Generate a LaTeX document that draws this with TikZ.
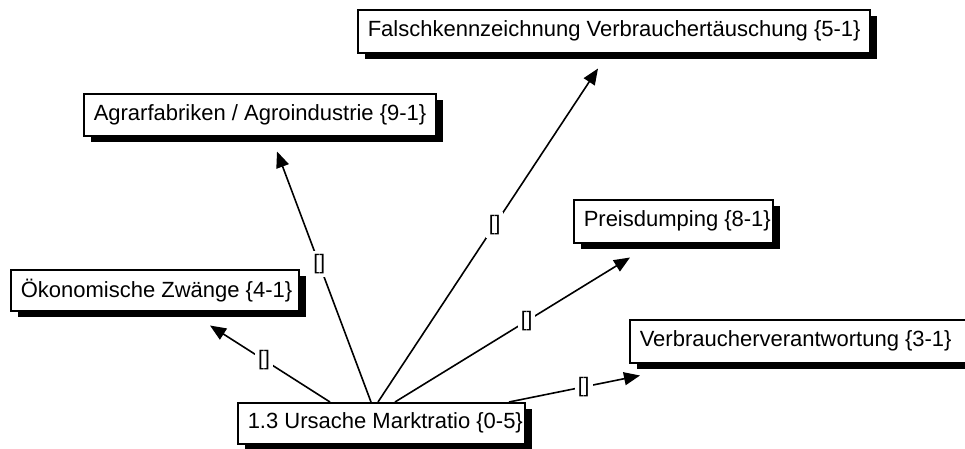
\documentclass[tikz,border=0pt]{standalone}
\usepackage{fontspec}
\setmainfont{Liberation Sans}
\usetikzlibrary{shadows,arrows.meta,calc}
\begin{document}
\begin{tikzpicture}[x=1pt,y=-1pt,
  box/.style={draw, line width=1.5pt, fill=white, inner xsep=10pt, inner ysep=0pt,
    anchor=north west, font=\fontsize{22}{26}\selectfont,
    drop shadow={shadow xshift=7pt, shadow yshift=-6pt, fill=black, opacity=1}},
  conn/.style={line width=1.6pt, -{Triangle[length=16pt,width=13pt]}},
  lbl/.style={fill=white, inner sep=3pt, font=\fontsize{21}{24}\selectfont}]
\useasboundingbox (0,0) rectangle (965,448);
\node[box, minimum height=41pt] (c) at (237,402) {\makebox[267pt][l]{1.3 Ursache Marktratio \{0-5\}}};
\node[box, minimum height=41pt] (o) at (10,269) {\makebox[268pt][l]{Ökonomische Zwänge \{4-1\}}};
\node[box, minimum height=42pt] (a) at (83,93) {\makebox[332pt][l]{Agrarfabriken / Agroindustrie \{9-1\}}};
\node[box, minimum height=43pt] (f) at (357,9) {\makebox[492pt][l]{Falschkennzeichnung Verbrauchertäuschung \{5-1\}}};
\node[box, minimum height=43pt] (p) at (573,199) {\makebox[179pt][l]{Preisdumping \{8-1\}}};
\node[box, minimum height=43pt] (v) at (629,319) {\makebox[320pt][l]{Verbraucherverantwortung \{3-1\}}};
% endpoints
\coordinate (so) at ([xshift=93pt]c.north west);
\coordinate (sa) at ([xshift=134pt]c.north west);
\coordinate (sf) at ([xshift=141pt]c.north west);
\coordinate (sp) at ([xshift=158pt]c.north west);
\coordinate (sv) at ([xshift=272pt]c.north west);
\coordinate (to) at ([xshift=200pt,yshift=-14pt]o.south west);
\coordinate (ta) at ([xshift=194pt,yshift=-15pt]a.south west);
\coordinate (tf) at ([xshift=241pt,yshift=-15pt]f.south west);
\coordinate (tp) at ([xshift=57pt,yshift=-14pt]p.south west);
\coordinate (tv) at ([xshift=11pt,yshift=-12pt]v.south west);
\draw[conn] (so) -- node[lbl, pos=0.55] {[]} (to);
\draw[conn] (sa) -- node[lbl, pos=0.55] {[]} (ta);
\draw[conn] (sf) -- node[lbl, pos=0.53] {[]} (tf);
\draw[conn] (sp) -- node[lbl, pos=0.56] {[]} (tp);
\draw[conn] (sv) -- node[lbl, pos=0.57] {[]} (tv);
\end{tikzpicture}
\end{document}
